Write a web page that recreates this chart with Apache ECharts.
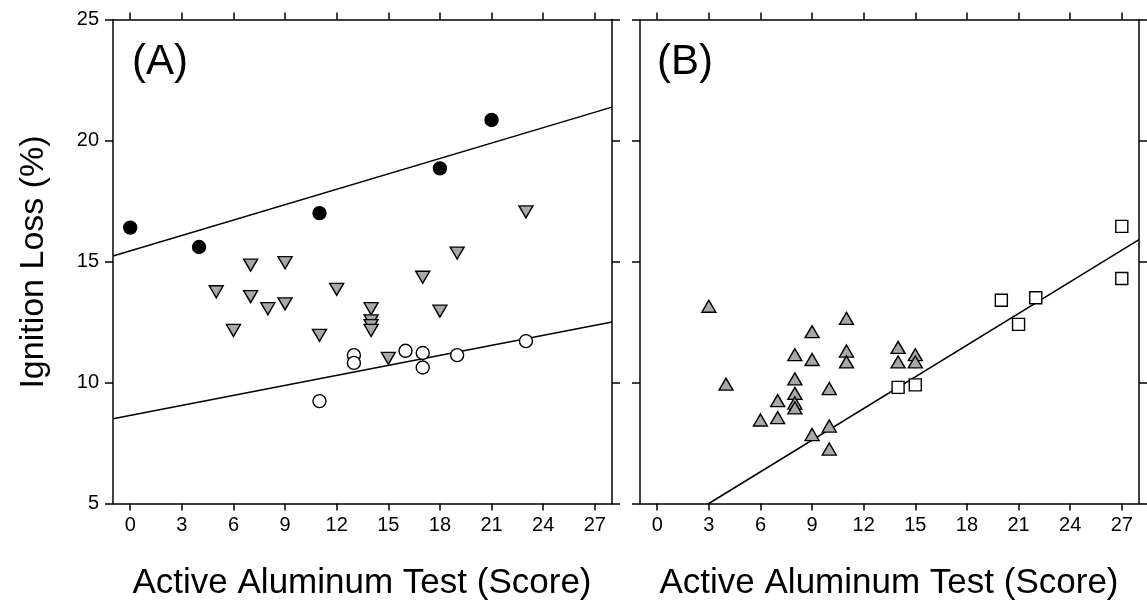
<!DOCTYPE html>
<html>
<head>
<meta charset="utf-8">
<script src="https://cdn.jsdelivr.net/npm/echarts@6/dist/echarts.min.js"></script>
<style>
html,body{margin:0;padding:0;background:#fff;}
#chart{width:1147px;height:603px;}
</style>
</head>
<body>
<div id="chart"></div>
<script>
// ---- data ----
const xTickValues = [0, 3, 6, 9, 12, 15, 18, 21, 24, 27];
const yTickValues = [5, 10, 15, 20, 25];
const panelLabels = ['(A)', '(B)'];
const xTitle = 'Active Aluminum Test (Score)';
const yTitle = 'Ignition Loss (%)';

// Panel A
const filledCirclesA = [[0,16.4],[4,15.6],[11,17.0],[18,18.85],[21,20.85]];
const openCirclesA = [[11,9.23],[13,11.13],[13,10.81],[16,11.31],[17,11.22],[17,10.62],[19,11.13],[23,11.71]];
const triDownA = [[5,13.75],[6,12.15],[7,14.85],[7,13.55],[8,13.05],[9,14.95],[9,13.25],[11,11.95],[12,13.85],[14,13.05],[14,12.55],[14,12.35],[14,12.15],[15,11.0],[17,14.35],[18,12.95],[19,15.35],[23,17.05]];
const fitUpperA = [[-1,15.23],[28,21.38]];
const fitLowerA = [[-1,8.5],[28,12.5]];

// Panel B
const triUpB = [[3,13.15],[4,9.93],[6,8.45],[7,9.25],[7,8.55],[8,11.15],[8,10.15],[8,9.55],[8,9.15],[8,8.95],[9,12.1],[9,10.95],[9,7.85],[10,9.75],[10,8.2],[10,7.25],[11,12.65],[11,11.3],[11,10.85],[14,11.45],[14,10.85],[15,11.15],[15,10.85]];
const squaresB = [[14,9.8],[15,9.9],[20,13.4],[21,12.4],[22,13.5],[27,16.45],[27,14.3]];
const fitB = [[3,5],[28,15.9]];

// ---- chart ----
const FONT = 'Liberation Sans, Arial, sans-serif';
const GREY = '#a8a8a8';
const chart = echarts.init(document.getElementById('chart'), null, {renderer:'canvas'});

function xAx(grid, pos, labels) {
  return {
    type:'value', gridIndex:grid, position:pos, min:-1, max:28,
    axisLine:{show:true, onZero:false, lineStyle:{color:'#000', width:1.5}},
    axisTick:{show:true, inside:false, length:7, customValues:xTickValues, lineStyle:{color:'#000', width:1.5}},
    axisLabel:{show:labels, customValues:xTickValues, color:'#000', fontSize:20, fontFamily:FONT, margin:12},
    splitLine:{show:false}
  };
}
function yAx(grid, pos, labels) {
  return {
    type:'value', gridIndex:grid, position:pos, min:5, max:25, interval:5,
    axisLine:{show:true, onZero:false, lineStyle:{color:'#000', width:1.5}},
    axisTick:{show:true, inside:false, length:8, lineStyle:{color:'#000', width:1.5}},
    axisLabel:{show:labels, color:'#000', fontSize:20, fontFamily:FONT, margin:14},
    splitLine:{show:false}
  };
}
function lineSeries(data, xi, yi) {
  return {type:'line', data:data, xAxisIndex:xi, yAxisIndex:yi, symbol:'none', silent:true,
    lineStyle:{color:'#000', width:1.5}, z:2};
}
function scatter(data, xi, yi, symbol, fill, size, rot) {
  return {type:'scatter', data:data, xAxisIndex:xi, yAxisIndex:yi, symbol:symbol, symbolSize:size,
    symbolRotate:rot||0, itemStyle:{color:fill, borderColor:'#000', borderWidth:1.4, opacity:1}, z:3};
}

chart.setOption({
  animation:false,
  backgroundColor:'#fff',
  grid:[
    {left:113, top:19.5, width:499, height:484},
    {left:640, top:19.5, width:499, height:484}
  ],
  xAxis:[ xAx(0,'bottom',true), xAx(0,'top',false), xAx(1,'bottom',true), xAx(1,'top',false) ],
  yAxis:[ yAx(0,'left',true), yAx(0,'right',false), yAx(1,'left',false), yAx(1,'right',false) ],
  series:[
    lineSeries(fitUpperA,0,0),
    lineSeries(fitLowerA,0,0),
    lineSeries(fitB,2,2),
    scatter(filledCirclesA,0,0,'circle','#000',13),
    scatter(openCirclesA,0,0,'circle','#fff',13),
    scatter(triDownA,0,0,'triangle',GREY,[14,12],180),
    scatter(triUpB,2,2,'triangle',GREY,[14,12],0),
    scatter(squaresB,2,2,'rect','#fff',12)
  ],
  graphic:[
    {type:'text', left:132, top:41, style:{text:panelLabels[0], font:'42px '+FONT, fill:'#000'}},
    {type:'text', left:657, top:41, style:{text:panelLabels[1], font:'42px '+FONT, fill:'#000'}},
    {type:'text', x:362, y:583, style:{text:xTitle, font:'35px '+FONT, fill:'#000', textAlign:'center', textVerticalAlign:'middle'}},
    {type:'text', x:889, y:583, style:{text:xTitle, font:'35px '+FONT, fill:'#000', textAlign:'center', textVerticalAlign:'middle'}},
    {type:'text', x:34, y:262, rotation:Math.PI/2, style:{text:yTitle, font:'34px '+FONT, fill:'#000', textAlign:'center', textVerticalAlign:'middle'}}
  ]
});
</script>
</body>
</html>
